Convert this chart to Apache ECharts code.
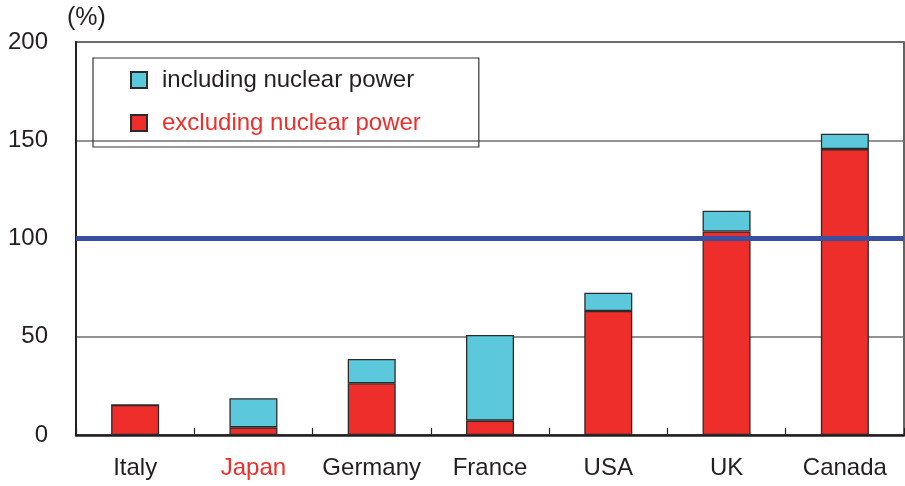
<!DOCTYPE html>
<html><head><meta charset="utf-8">
<script src="https://cdn.jsdelivr.net/npm/echarts@6/dist/echarts.min.js"></script>
<style>html,body{margin:0;padding:0;background:#fff}#c{width:905px;height:486px}</style>
</head><body><div id="c"></div>
<script>
const categories = ['Italy', 'Japan', 'Germany', 'France', 'USA', 'UK', 'Canada'];
const excludingNuclear = [15.3, 3.9, 26.3, 7.3, 63.1, 103.6, 145.5];
const includingNuclear = [15.3, 18.7, 38.7, 50.9, 72.4, 114.1, 153.3];
const yTicks = [0, 50, 100, 150, 200];
const referenceLine = 100;

const nuclearPart = includingNuclear.map((v, i) => +(v - excludingNuclear[i]).toFixed(1));
const FONT = '"Liberation Sans", Arial, sans-serif';
const chart = echarts.init(document.getElementById('c'));
chart.setOption({
  animation: false,
  textStyle: { fontFamily: FONT },
  title: { text: '(%)', left: 62, top: 1, textStyle: { fontSize: 25, fontWeight: 'normal', color: '#231f20', fontFamily: FONT } },
  grid: { left: 76, right: 1, top: 42, bottom: 51, show: true, borderColor: '#333', borderWidth: 1.5, backgroundColor: 'transparent' },
  legend: {
    orient: 'vertical', left: 93, top: 58,
    padding: [10, 58, 12, 37],
    borderColor: '#333', borderWidth: 1.2,
    itemWidth: 16, itemHeight: 16, itemGap: 19,
    icon: 'rect',
    textStyle: { fontSize: 24, fontFamily: FONT, padding: [0, 0, 0, 10] },
    data: [
      { name: 'including nuclear power', textStyle: { color: '#231f20' } },
      { name: 'excluding nuclear power', textStyle: { color: '#ee2e2a' } }
    ]
  },
  xAxis: {
    type: 'category', data: categories,
    axisLine: { lineStyle: { color: '#231f20', width: 2.5 } },
    axisTick: { show: true, inside: true, length: 7, interval: 0, lineStyle: { color: '#231f20', width: 1.2 } },
    axisLabel: {
      fontSize: 24, margin: 21, fontFamily: FONT, interval: 0, hideOverlap: false,
      color: (v) => v === 'Japan' ? '#ee2e2a' : '#231f20'
    }
  },
  yAxis: {
    type: 'value', min: yTicks[0], max: yTicks[yTicks.length - 1], interval: 50,
    axisLine: { show: true, lineStyle: { color: '#231f20', width: 2 } },
    axisTick: { show: false },
    splitLine: { lineStyle: { color: '#6d6e71', width: 1.5 } },
    axisLabel: { fontSize: 24, margin: 28, color: '#231f20', fontFamily: FONT }
  },
  series: [
    {
      name: 'excluding nuclear power', type: 'bar', stack: 'a', barWidth: 48,
      data: excludingNuclear,
      itemStyle: { color: '#ee2e2a', borderColor: '#2b2b2b', borderWidth: 1.3 },
      markLine: {
        silent: true, symbol: 'none', label: { show: false },
        lineStyle: { color: '#3a4fa0', width: 5, type: 'solid' },
        data: [{ yAxis: referenceLine }], z: 10
      },
      z: 2
    },
    {
      name: 'including nuclear power', type: 'bar', stack: 'a', barWidth: 48,
      data: nuclearPart,
      itemStyle: { color: '#5bc8db', borderColor: '#2b2b2b', borderWidth: 1.3 },
      z: 2
    }
  ]
});
</script></body></html>
